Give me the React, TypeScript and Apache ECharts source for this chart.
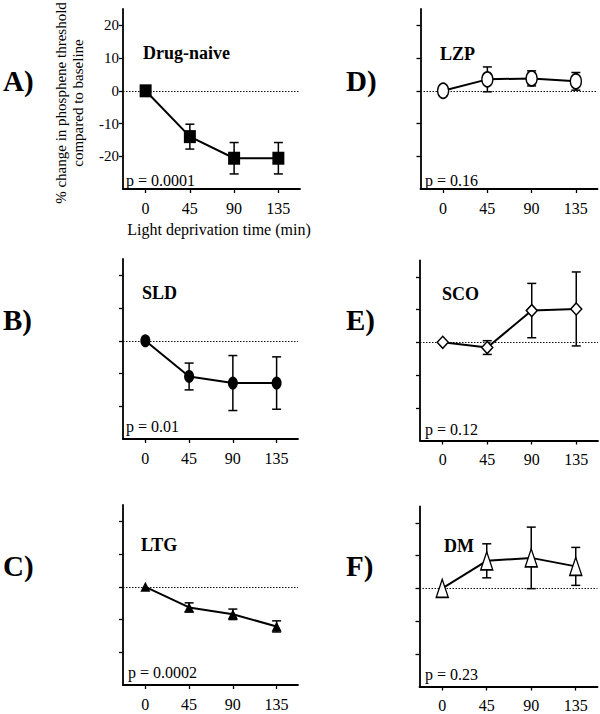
import React, { useEffect, useRef } from "react";
import * as echarts from "echarts";

// ---- data ----
const times = [0, 45, 90, 135];
const xTickValues = [0, 45, 90, 135];
const yTickValues = [-20, -10, 0, 10, 20];
const yTickLabels = ["-20", "-10", "0", "10", "20"];

const drugNaiveMean = [0, -14, -20.6, -20.6];
const drugNaiveErr = [0, 3.8, 4.8, 4.8];
const sldMean = [0, -10.9, -12.9, -12.9];
const sldErr = [0, 4.1, 8.4, 8.0];
const ltgMean = [0, -6.3, -8.4, -12.1];
const ltgErr = [0, 1.4, 1.6, 1.7];
const lzpMean = [0, 3.5, 3.8, 2.9];
const lzpErr = [0, 3.8, 2.3, 2.7];
const scoMean = [0, -1.6, 9.7, 10.2];
const scoErr = [0, 2.1, 8.3, 11.3];
const dmMean = [0, 8.4, 9.3, 6.7];
const dmErr = [0, 5.2, 9.4, 5.8];

const panelLetters = ["A)", "B)", "C)", "D)", "E)", "F)"];
const drugNames = ["Drug-naive", "SLD", "LTG", "LZP", "SCO", "DM"];
const pTexts = ["p = 0.0001", "p = 0.01", "p = 0.0002", "p = 0.16", "p = 0.12", "p = 0.23"];
const yAxisTitle = ["% change in phosphene threshold", "compared to baseline"];
const xAxisTitle = "Light deprivation time (min)";

const FONT = "'Liberation Serif', 'Times New Roman', serif";

export default function App() {
  const ref = useRef<HTMLDivElement>(null);
  useEffect(() => {
    if (!ref.current) return;
    const chart = echarts.init(ref.current, null, { renderer: "svg" });

    const means = [drugNaiveMean, sldMean, ltgMean, lzpMean, scoMean, dmMean];
    const errs = [drugNaiveErr, sldErr, ltgErr, lzpErr, scoErr, dmErr];

    const grids = [
      { left: 123, top: 9, width: 177, height: 180 },
      { left: 123, top: 259, width: 175, height: 180 },
      { left: 123, top: 505, width: 175, height: 180 },
      { left: 420.5, top: 9, width: 177, height: 180 },
      { left: 420, top: 260.5, width: 178, height: 180 },
      { left: 419.5, top: 506.5, width: 178, height: 180 },
    ];
    const symbols = [
      { symbol: "rect", size: [12, 13], fill: "#000" },
      { symbol: "circle", size: [10, 13], fill: "#000" },
      { symbol: "triangle", size: [10, 10], fill: "#000" },
      { symbol: "circle", size: [11, 15], fill: "#fff" },
      { symbol: "diamond", size: [11, 12], fill: "#fff" },
      { symbol: "triangle", size: [12, 18], fill: "#fff" },
    ];
    const letterPos = [
      [3, 81], [3, 320], [3, 566], [346, 81], [346, 320], [346, 566],
    ];
    const titlePos = [
      [143, 53], [142, 293], [141, 545], [440, 53.5], [442, 293.5], [444, 545.5],
    ];
    const pPos = [
      [126, 180], [126, 426], [128, 672], [425, 180], [425, 429], [425, 674],
    ];

    const xAxes = grids.map((_, i) => ({
      type: "value",
      gridIndex: i,
      min: -23,
      max: 157,
      axisLine: { onZero: false, lineStyle: { color: "#000", width: 1.8 } },
      axisTick: { show: true, length: 4, customValues: xTickValues, lineStyle: { color: "#000", width: 1.3 } },
      axisLabel: {
        customValues: xTickValues,
        margin: 11,
        color: "#000",
        fontFamily: FONT,
        fontSize: 16,
      },
      splitLine: { show: false },
    }));
    const yAxes = grids.map((_, i) => ({
      type: "value",
      gridIndex: i,
      min: -30,
      max: 25,
      axisLine: { onZero: false, lineStyle: { color: "#000", width: 1.8 } },
      axisTick: { show: true, length: 4, customValues: yTickValues, lineStyle: { color: "#000", width: 1.3 } },
      axisLabel: {
        show: i === 0,
        customValues: yTickValues,
        margin: 4,
        color: "#000",
        fontFamily: FONT,
        fontSize: 15,
        formatter: (v: number) => yTickLabels[yTickValues.indexOf(v)] ?? String(v),
      },
      splitLine: { show: false },
    }));

    const series: any[] = [];
    means.forEach((m, i) => {
      const errData = times.map((t, k) => [t, m[k] - errs[i][k], m[k] + errs[i][k]]);
      series.push({
        type: "custom",
        xAxisIndex: i,
        yAxisIndex: i,
        z: 2,
        encode: { x: 0, y: [1, 2] },
        data: errData.filter((d, k) => errs[i][k] > 0),
        renderItem: (params: any, api: any) => {
          const x = api.value(0);
          const lo = api.coord([x, api.value(1)]);
          const hi = api.coord([x, api.value(2)]);
          const hw = 4.5;
          const st = { stroke: "#000", lineWidth: 1.5 };
          return {
            type: "group",
            children: [
              { type: "line", shape: { x1: lo[0], y1: lo[1], x2: hi[0], y2: hi[1] }, style: st },
              { type: "line", shape: { x1: lo[0] - hw, y1: lo[1], x2: lo[0] + hw, y2: lo[1] }, style: st },
              { type: "line", shape: { x1: hi[0] - hw, y1: hi[1], x2: hi[0] + hw, y2: hi[1] }, style: st },
            ],
          };
        },
      });
      series.push({
        type: "line",
        xAxisIndex: i,
        yAxisIndex: i,
        z: 3,
        data: times.map((t, k) => [t, m[k]]),
        symbol: symbols[i].symbol,
        symbolSize: symbols[i].size,
        showAllSymbol: true,
        lineStyle: { color: "#000", width: 2 },
        itemStyle: { color: symbols[i].fill, borderColor: "#000", borderWidth: symbols[i].fill === "#fff" ? 1.5 : 0 },
        markLine: {
          silent: true,
          symbol: "none",
          label: { show: false },
          lineStyle: { color: "#111", width: 1, type: [1.5, 1.5] },
          data: [{ yAxis: 0 }],
          z: 1,
        },
      });
    });

    const graphic: any[] = [];
    panelLetters.forEach((t, i) => {
      graphic.push({
        type: "text",
        x: letterPos[i][0],
        y: letterPos[i][1],
        style: { text: t, fontFamily: FONT, fontSize: 29, fontWeight: "bold", fill: "#000", verticalAlign: "middle", align: "left" },
      });
      graphic.push({
        type: "text",
        x: titlePos[i][0],
        y: titlePos[i][1],
        style: { text: drugNames[i], fontFamily: FONT, fontSize: 18, fontWeight: "bold", fill: "#000", verticalAlign: "middle", align: "left" },
      });
      graphic.push({
        type: "text",
        x: pPos[i][0],
        y: pPos[i][1],
        style: { text: pTexts[i], fontFamily: FONT, fontSize: 16, fill: "#000", verticalAlign: "middle", align: "left" },
      });
    });
    graphic.push({
      type: "text",
      x: 69,
      y: 103,
      rotation: Math.PI / 2,
      style: {
        text: yAxisTitle.join("\n"),
        fontFamily: FONT,
        fontSize: 15,
        lineHeight: 17,
        fill: "#000",
        align: "center",
        verticalAlign: "middle",
      },
    });
    graphic.push({
      type: "text",
      x: 219,
      y: 229,
      style: { text: xAxisTitle, fontFamily: FONT, fontSize: 16, fill: "#000", align: "center", verticalAlign: "middle" },
    });

    chart.setOption({
      animation: false,
      backgroundColor: "#fff",
      grid: grids.map((g) => ({ ...g, containLabel: false })),
      xAxis: xAxes,
      yAxis: yAxes,
      series,
      graphic,
    });
    return () => chart.dispose();
  }, []);
  return (
    <div
      ref={ref}
      style={{ position: "fixed", left: 0, top: 0, width: 600, height: 714, background: "#fff" }}
    />
  );
}
